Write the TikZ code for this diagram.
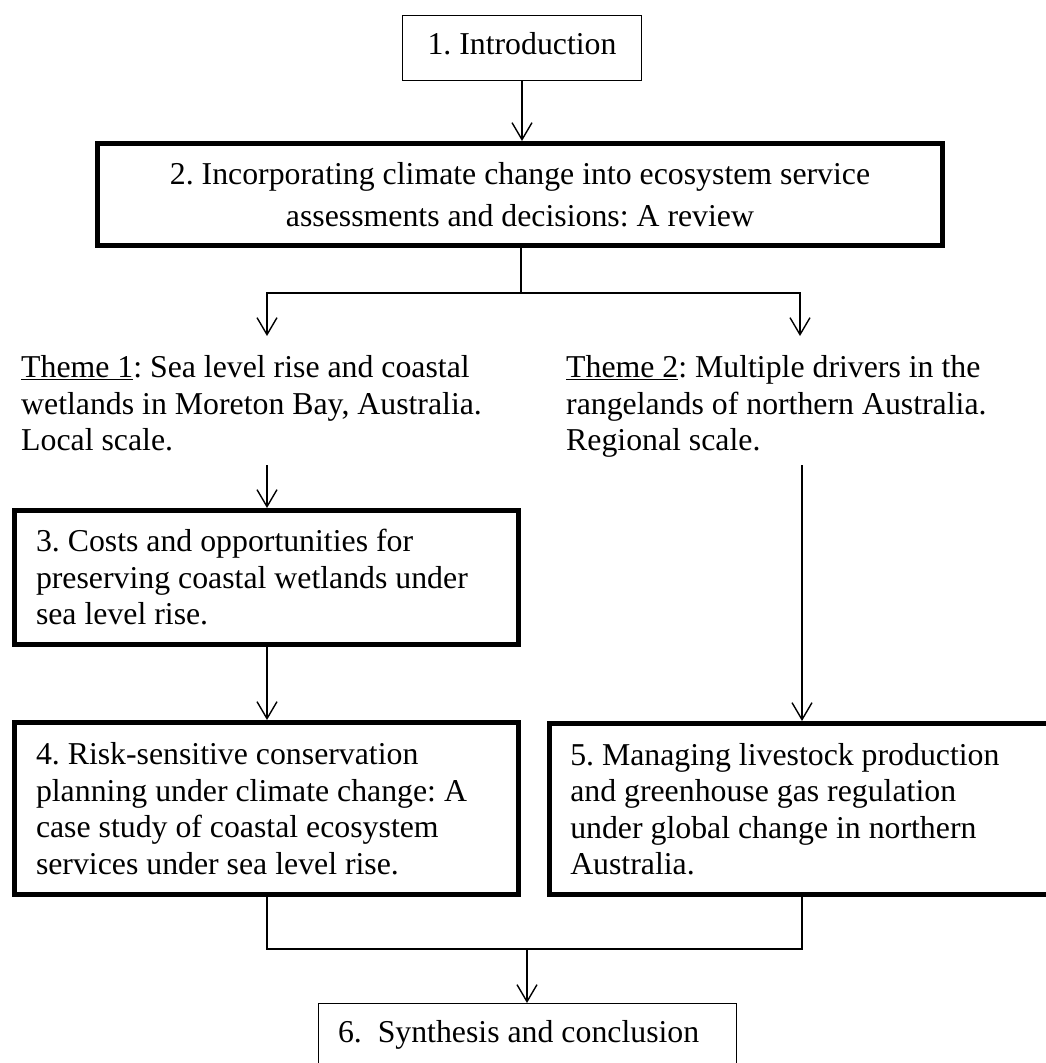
\documentclass[tikz,border=0pt]{standalone}
\usepackage{fontspec}
\setmainfont{Liberation Serif}
\usetikzlibrary{arrows.meta}
\begin{document}
\frenchspacing
\begin{tikzpicture}[x=1pt,y=-1pt,
  every node/.style={font=\fontsize{31.8}{36.5}\selectfont\frenchspacing},
  thinbox/.style={draw, line width=1.3pt, inner ysep=0pt},
  thickbox/.style={draw, line width=5pt, inner ysep=0pt, inner xsep=21.5pt, align=flush left},
  theme/.style={anchor=north west, inner sep=0pt, align=left},
  conn/.style={line width=1.4pt},
  arr/.style={conn, -{Straight Barb[length=17pt,width=20pt]}}
]
\useasboundingbox (0,0) rectangle (1045,1063);

% boxes
\node[thinbox, anchor=north, minimum width=238.8pt, text height=38.4pt, text depth=26.4pt, inner xsep=0pt]
  (b1) at (522,15) {1. Introduction};
\node[thickbox, align=flush center, inner xsep=10pt, minimum width=845pt, minimum height=102pt, text width=800pt,
  font=\fontsize{31.8}{42}\selectfont\frenchspacing]
  (b2) at (520,194.5) {2. Incorporating climate change into ecosystem service\\assessments and decisions: A review};
\node[theme] (th1) at (21,355.3) {\underline{Theme 1}: Sea level rise and coastal\\wetlands in Moreton Bay, Australia.\\Local scale.};
\node[theme] (th2) at (566,355.3) {\underline{Theme 2}: Multiple drivers in the\\rangelands of northern Australia.\\Regional scale.};
\node[thickbox, minimum width=504pt, minimum height=134pt, text width=461pt]
  (b3) at (266.5,577.5) {3. Costs and opportunities for\\preserving coastal wetlands under\\sea level rise.};
\node[thickbox, minimum width=504pt, minimum height=172pt, text width=461pt]
  (b4) at (266.5,808.5) {4. Risk-sensitive conservation\\planning under climate change: A\\case study of coastal ecosystem\\services under sea level rise.};
\node[thickbox, inner xsep=20.5pt, minimum width=502pt, minimum height=171pt, text width=461pt]
  (b5) at (800.75,809) {5. Managing livestock production\\and greenhouse gas regulation\\under global change in northern\\Australia.};
\node[thinbox, anchor=north, inner xsep=19.5pt, minimum width=418pt, text width=379pt, align=flush left,
  text height=38.4pt, text depth=60pt]
  (b6) at (527.5,1003) {6.\ \ Synthesis and conclusion};

% connectors
\coordinate (br) at (521,293);
\coordinate (t1in) at (267,336);
\coordinate (t2in) at (800,336);
\coordinate (t1out) at (267,465);
\coordinate (t2out) at (802,465);
\coordinate (mL) at (267,949);
\coordinate (mR) at (802,949);
\coordinate (mC) at (527,949);

\draw[arr] (b1.south) -- (b1.south |- b2.north);
\draw[conn] (b2.south -| br) -- (br);
\draw[arr] (br) -| (t1in);
\draw[arr] (br) -| (t2in);
\draw[arr] (t1out) -- (t1out |- b3.north);
\draw[arr] (t2out) -- (t2out |- b5.north);
\draw[arr] (b3.south -| t1out) -- (b4.north -| t1out);
\draw[conn] (b4.south -| mL) -- (mL) -- (mR) -- (b5.south -| mR);
\draw[arr] (mC) -- (mC |- b6.north);
\end{tikzpicture}
\end{document}
